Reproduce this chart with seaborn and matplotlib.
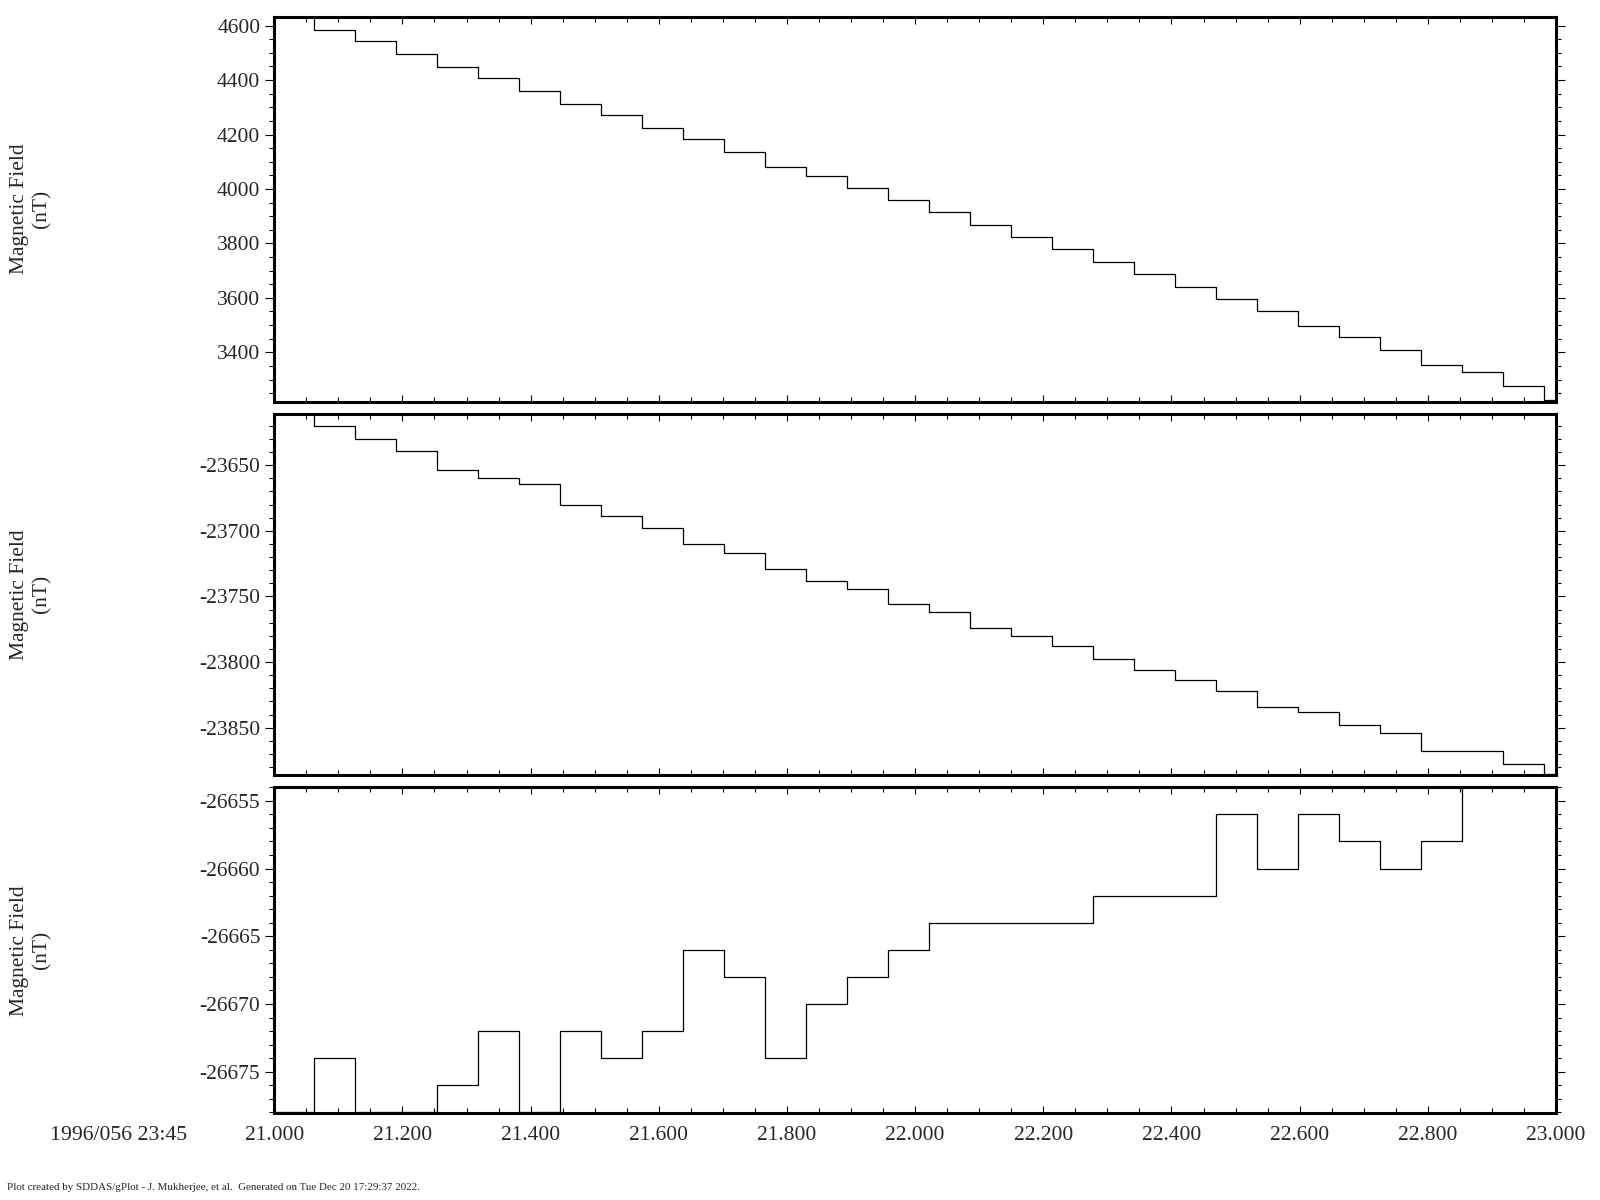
import numpy as np
import pandas as pd
import matplotlib
matplotlib.use('Agg')
import matplotlib.pyplot as plt
from matplotlib.ticker import MultipleLocator, FormatStrFormatter
import seaborn as sns

# sample start times (seconds after 1996/056 23:45), one value per sample
sample_times = [20.998, 21.062, 21.126, 21.190, 21.254, 21.318, 21.382, 21.446,
                21.510, 21.574, 21.638, 21.702, 21.766, 21.830, 21.894, 21.958,
                22.022, 22.086, 22.150, 22.214, 22.278, 22.342, 22.406, 22.470,
                22.534, 22.598, 22.662, 22.726, 22.790, 22.854, 22.918, 22.982]
end_time = 23.046

field_top = [4633, 4583, 4542, 4496, 4447, 4406, 4360, 4314, 4272, 4225, 4182,
             4135, 4080, 4047, 4004, 3960, 3916, 3869, 3825, 3779, 3730, 3689,
             3641, 3597, 3553, 3495, 3458, 3410, 3355, 3326, 3278, 3223]
field_mid = [-23611, -23620, -23630, -23639, -23654, -23660, -23664, -23680,
             -23689, -23698, -23710, -23717, -23729, -23738, -23744, -23756,
             -23762, -23774, -23780, -23788, -23798, -23806, -23814, -23822,
             -23834, -23838, -23848, -23854, -23868, -23868, -23878, -23885]
field_bot = [-26678, -26674, -26678, -26678, -26676, -26672, -26678, -26672,
             -26674, -26672, -26666, -26668, -26674, -26670, -26668, -26666,
             -26664, -26664, -26664, -26664, -26662, -26662, -26662, -26656,
             -26660, -26656, -26658, -26660, -26658, -26654, -26654, -26654]

y_label = 'Magnetic Field\n(nT)'
time_label = '1996/056 23:45'
footer = ('Plot created by SDDAS/gPlot - J. Mukherjee, et al.  '
          'Generated on Tue Dec 20 17:29:37 2022.')

sns.set_style('white')
plt.rcParams['font.family'] = ['Liberation Serif', 'DejaVu Serif']
plt.rcParams['font.size'] = 15.5

fig = plt.figure(figsize=(16, 12), dpi=100)

# (values, major y step, minor y step, axes bottom, axes height)
panels = [
    (field_top, 200, 50, 0.6653, 0.3208),
    (field_mid, 50, 10, 0.3544, 0.3006),
    (field_bot, 5, 1, 0.0722, 0.2717),
]

for i, (vals, major, minor, bottom, height) in enumerate(panels):
    ax = fig.add_axes([0.1714, bottom, 0.8011, height])
    df = pd.DataFrame({'time': sample_times + [end_time],
                       'field': vals + [vals[-1]]})
    sns.lineplot(data=df, x='time', y='field', drawstyle='steps-post',
                 estimator=None, color='black', linewidth=0.9, zorder=3, ax=ax)
    ax.set_xlim(21.0, 23.0)
    span = max(vals) - min(vals)
    ax.set_ylim(min(vals) - 0.003 * span, max(vals))
    ax.set_xlabel('')
    ax.set_ylabel('')

    ax.xaxis.set_major_locator(MultipleLocator(0.2))
    ax.xaxis.set_minor_locator(MultipleLocator(0.05))
    ax.xaxis.set_major_formatter(FormatStrFormatter('%.3f'))
    ax.yaxis.set_major_locator(MultipleLocator(major))
    ax.yaxis.set_minor_locator(MultipleLocator(minor))
    ax.yaxis.set_major_formatter(FormatStrFormatter('%d'))

    ax.tick_params(axis='x', which='both', direction='in', top=True, bottom=True,
                   width=0.8, color='black', pad=9, labelsize=15.5)
    ax.tick_params(axis='x', which='major', length=5.2)
    ax.tick_params(axis='x', which='minor', length=3.3)
    ax.tick_params(axis='y', which='both', direction='out', left=True, right=True,
                   width=0.8, color='black', pad=3.5, labelsize=15.5)
    ax.tick_params(axis='y', which='major', length=6.5)
    ax.tick_params(axis='y', which='minor', length=3.8)
    if i < 2:
        ax.tick_params(axis='x', labelbottom=False)

    for sp in ax.spines.values():
        sp.set_linewidth(2.2)
        sp.set_color('black')

    fig.text(31 / 1600, bottom + height / 2, y_label, rotation=90,
             ha='center', va='center', multialignment='center', fontsize=15.5)

fig.text(187 / 1600, 1 - 1136 / 1200, time_label, ha='right', va='center',
         fontsize=15.7)
fig.text(7 / 1600, 1 - 1188 / 1200, footer, ha='left', va='center', fontsize=7.9)

fig.savefig('out.png', dpi=100, facecolor='white')
